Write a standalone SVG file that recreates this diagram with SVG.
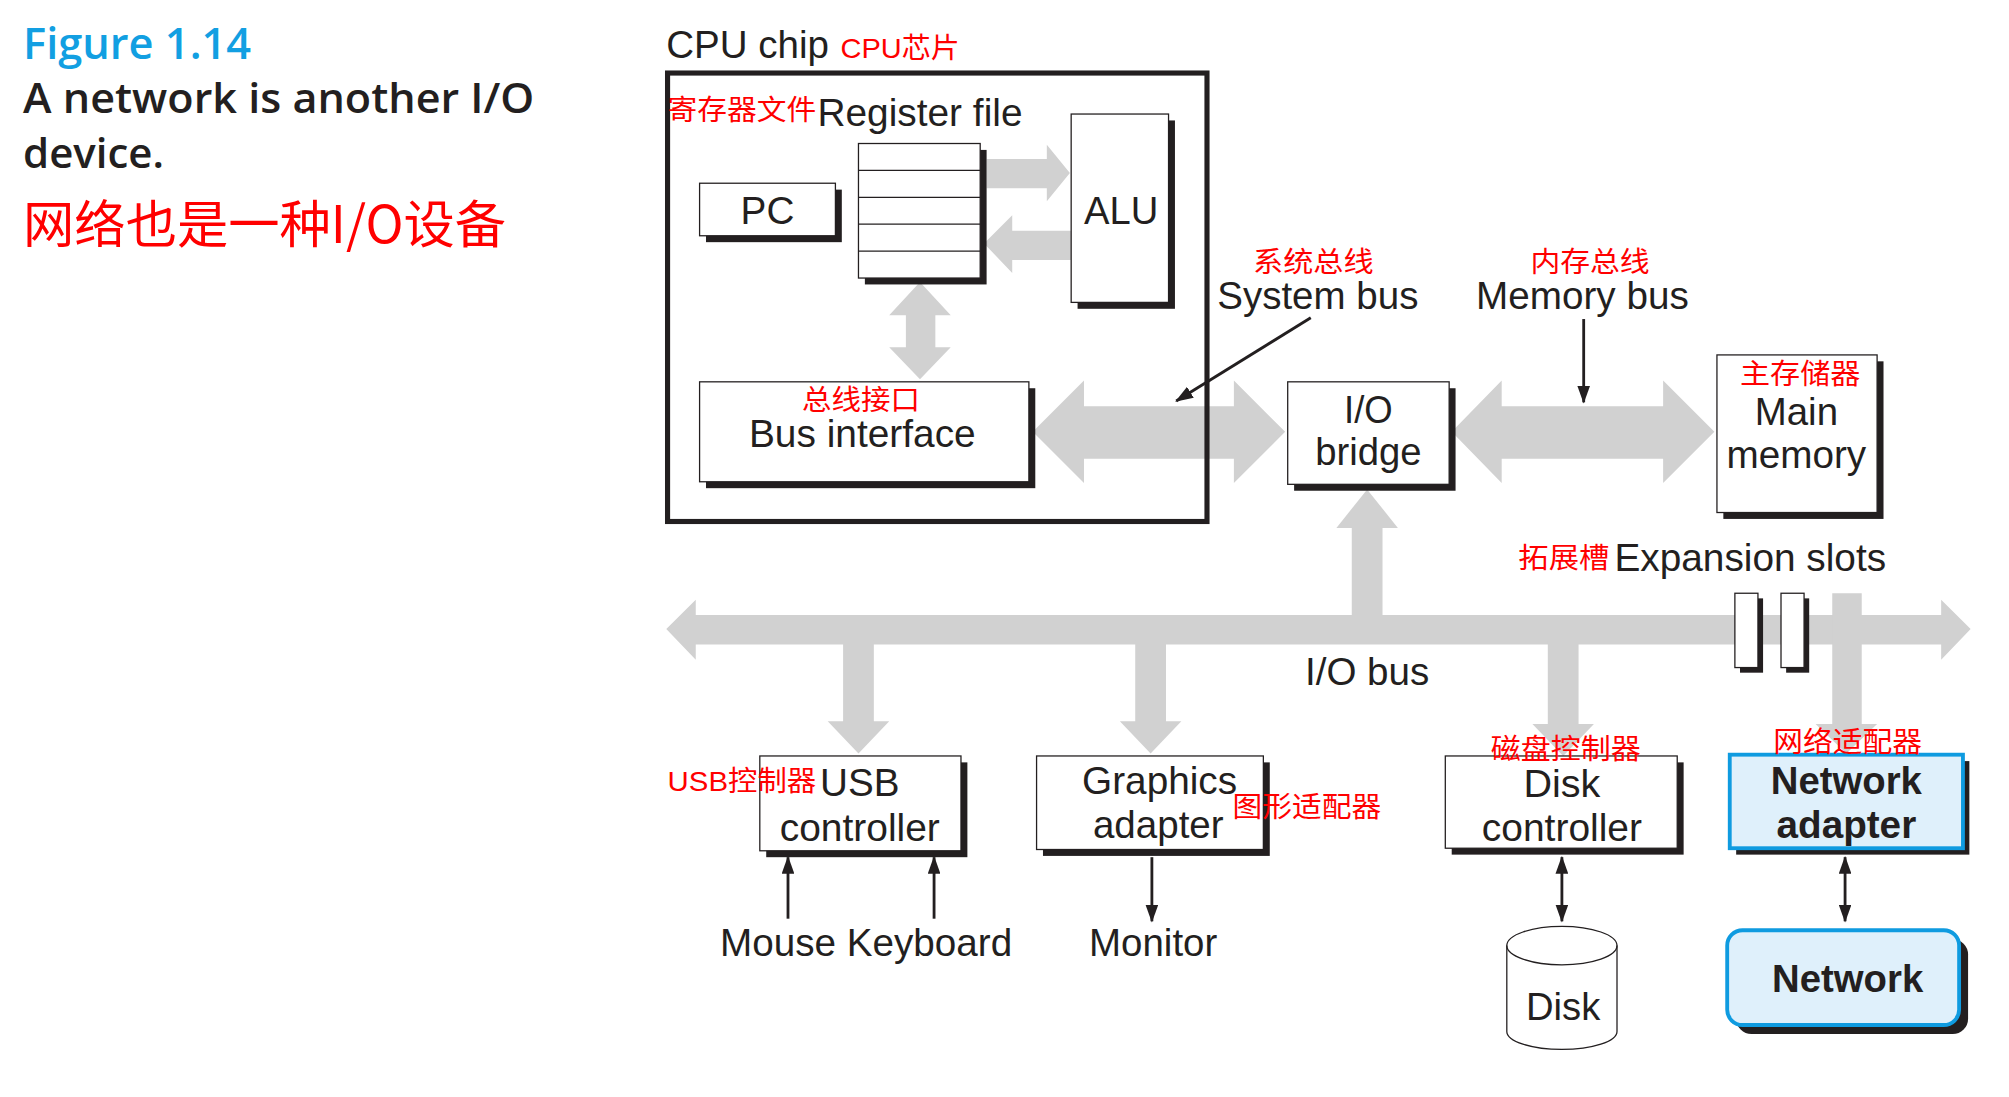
<svg xmlns="http://www.w3.org/2000/svg" width="2009" height="1097" viewBox="0 0 2009 1097">
<defs>
<style>
.lb{font-family:"Liberation Sans Narrow","Liberation Sans",Arial,sans-serif;font-size:30px;fill:#231f20}
.bd{font-weight:bold}
.cn{font-family:"Liberation Sans","Noto Sans CJK SC",sans-serif;font-size:22px;fill:#ff0000}
.ttl{font-family:"Open Sans","Noto Sans",sans-serif;font-weight:600}
.bus{fill:#d1d1d1}
.sh{fill:#231f20}
.bx{fill:#ffffff;stroke:#231f20;stroke-width:1}
.nb{fill:#dff0fb;stroke:#0f9be0;stroke-width:3}
.pt{stroke:#231f20;stroke-width:2.2;fill:none}
</style>
<marker id="ah" viewBox="0 0 14 10" refX="13" refY="5" markerWidth="14" markerHeight="10" orient="auto-start-reverse" markerUnits="userSpaceOnUse">
<path d="M0,0 L14,5 L0,10 z" fill="#231f20"/>
</marker>
</defs>
<rect width="2009" height="1097" fill="#ffffff"/>
<g transform="scale(1.2813)">
<g id="title">
<text class="ttl" x="18" y="46" font-size="34" fill="#129fe2" textLength="178" lengthAdjust="spacingAndGlyphs">Figure 1.14</text>
<text class="ttl" x="18" y="88" font-size="33" fill="#231f20" textLength="399" lengthAdjust="spacingAndGlyphs">A network is another I/O</text>
<text class="ttl" x="18" y="131" font-size="33" fill="#231f20" textLength="110" lengthAdjust="spacingAndGlyphs">device.</text>
<text x="18" y="190" font-family="'Noto Sans CJK SC',sans-serif" font-size="40" fill="#ff0000" textLength="377" lengthAdjust="spacingAndGlyphs">网络也是一种I/O设备</text>
</g>

<g id="connectors">
<polygon class="bus" points="770,124 817,124 817,113 835,135 817,157 817,147 770,147"/>
<polygon class="bus" points="836,180 790,180 790,168 768,190 790,213 790,203 836,203"/>
<polygon class="bus" points="718,220 742,246 730,246 730,271 742,271 718,296 694,271 707,271 707,246 694,246"/>
<polygon class="bus" points="806,337 846,297 846,317 963,317 963,297 1003,337 963,377 963,358 846,358 846,377"/>
<polygon class="bus" points="1133,337 1172,297 1172,317 1298,317 1298,297 1338,337 1298,377 1298,358 1172,358 1172,377"/>
<polygon class="bus" points="1067,382 1091,412 1079,412 1079,482 1055,482 1055,412 1043,412"/>
<polygon class="bus" points="520,491 543,468 543,480 1515,480 1515,468 1538,491 1515,515 1515,503 543,503 543,515"/>
<polygon class="bus" points="658,500 682,500 682,563 694,563 670,588 646,563 658,563"/>
<polygon class="bus" points="886,500 910,500 910,563 922,563 898,588 874,563 886,563"/>
<polygon class="bus" points="1208,500 1232,500 1232,565 1244,565 1220,590 1196,565 1208,565"/>
<polygon class="bus" points="1430,463 1453,463 1453,565 1465,565 1441,588 1417,565 1430,565"/>
<line class="pt" x1="1023" y1="248" x2="918" y2="313" marker-end="url(#ah)"/>
<line class="pt" x1="1236" y1="249" x2="1236" y2="314" marker-end="url(#ah)"/>
<line class="pt" x1="615" y1="717" x2="615" y2="669" marker-end="url(#ah)"/>
<line class="pt" x1="729" y1="717" x2="729" y2="669" marker-end="url(#ah)"/>
<line class="pt" x1="899" y1="669" x2="899" y2="719" marker-end="url(#ah)"/>
<line class="pt" x1="1219" y1="669" x2="1219" y2="719" marker-start="url(#ah)" marker-end="url(#ah)"/>
<line class="pt" x1="1440" y1="669" x2="1440" y2="719" marker-start="url(#ah)" marker-end="url(#ah)"/>
</g>

<g id="cpu-chip">
<rect x="521" y="57" width="421" height="350" fill="none" stroke="#231f20" stroke-width="4"/>
<text class="lb" x="520" y="45" textLength="127" lengthAdjust="spacingAndGlyphs">CPU chip</text>
<text class="cn" x="656" y="45" textLength="93" lengthAdjust="spacingAndGlyphs">CPU芯片</text>
</g>

<g id="register-file">
<rect class="sh" x="675" y="117" width="95" height="105"/>
<rect class="bx" x="670" y="112" width="95" height="105"/>
<line class="bx" x1="670" y1="133" x2="765" y2="133"/>
<line class="bx" x1="670" y1="154" x2="765" y2="154"/>
<line class="bx" x1="670" y1="175" x2="765" y2="175"/>
<line class="bx" x1="670" y1="196" x2="765" y2="196"/>
<text class="cn" x="521" y="94" textLength="116" lengthAdjust="spacingAndGlyphs">寄存器文件</text>
<text class="lb" x="638" y="98" textLength="160" lengthAdjust="spacingAndGlyphs">Register file</text>
</g>

<g id="pc">
<rect class="sh" x="551" y="148" width="106" height="41"/>
<rect class="bx" x="546" y="143" width="106" height="41"/>
<text class="lb" x="599" y="175" text-anchor="middle" textLength="42" lengthAdjust="spacingAndGlyphs">PC</text>
</g>

<g id="alu">
<rect class="sh" x="841" y="94" width="76" height="147"/>
<rect class="bx" x="836" y="89" width="76" height="147"/>
<text class="lb" x="875" y="175" text-anchor="middle" textLength="58" lengthAdjust="spacingAndGlyphs">ALU</text>
</g>

<g id="bus-interface">
<rect class="sh" x="551" y="303" width="257" height="78"/>
<rect class="bx" x="546" y="298" width="257" height="78"/>
<text class="cn" x="672" y="320" text-anchor="middle" textLength="92" lengthAdjust="spacingAndGlyphs">总线接口</text>
<text class="lb" x="673" y="349" text-anchor="middle" textLength="177" lengthAdjust="spacingAndGlyphs">Bus interface</text>
</g>

<g id="system-bus-label">
<text class="cn" x="1025" y="212" text-anchor="middle" textLength="94" lengthAdjust="spacingAndGlyphs">系统总线</text>
<text class="lb" x="950" y="241" textLength="157" lengthAdjust="spacingAndGlyphs">System bus</text>
</g>

<g id="memory-bus-label">
<text class="cn" x="1241" y="212" text-anchor="middle" textLength="93" lengthAdjust="spacingAndGlyphs">内存总线</text>
<text class="lb" x="1152" y="241" textLength="166" lengthAdjust="spacingAndGlyphs">Memory bus</text>
</g>

<g id="io-bridge">
<rect class="sh" x="1010" y="303" width="126" height="80"/>
<rect class="bx" x="1005" y="298" width="126" height="80"/>
<text class="lb" x="1068" y="330" text-anchor="middle" textLength="38" lengthAdjust="spacingAndGlyphs">I/O</text>
<text class="lb" x="1068" y="363" text-anchor="middle" textLength="83" lengthAdjust="spacingAndGlyphs">bridge</text>
</g>

<g id="main-memory">
<rect class="sh" x="1345" y="282" width="125" height="123"/>
<rect class="bx" x="1340" y="277" width="125" height="123"/>
<text class="cn" x="1405" y="300" text-anchor="middle" textLength="94" lengthAdjust="spacingAndGlyphs">主存储器</text>
<text class="lb" x="1402" y="332" text-anchor="middle" textLength="65" lengthAdjust="spacingAndGlyphs">Main</text>
<text class="lb" x="1402" y="365" text-anchor="middle" textLength="109" lengthAdjust="spacingAndGlyphs">memory</text>
</g>

<g id="expansion-slots">
<rect class="sh" x="1358" y="467" width="18" height="58"/>
<rect class="bx" x="1354" y="463" width="18" height="58"/>
<rect class="sh" x="1394" y="467" width="18" height="58"/>
<rect class="bx" x="1390" y="463" width="18" height="58"/>
<text class="cn" x="1185" y="443" textLength="71" lengthAdjust="spacingAndGlyphs">拓展槽</text>
<text class="lb" x="1260" y="446" textLength="212" lengthAdjust="spacingAndGlyphs">Expansion slots</text>
</g>

<g id="io-bus-label">
<text class="lb" x="1067" y="535" text-anchor="middle" textLength="97" lengthAdjust="spacingAndGlyphs">I/O bus</text>
</g>

<g id="usb-controller">
<rect class="sh" x="598" y="595" width="157" height="74"/>
<rect class="bx" x="593" y="590" width="157" height="74"/>
<text class="cn" x="521" y="617" textLength="116" lengthAdjust="spacingAndGlyphs">USB控制器</text>
<text class="lb" x="640" y="621" textLength="62" lengthAdjust="spacingAndGlyphs">USB</text>
<text class="lb" x="671" y="656" text-anchor="middle" textLength="125" lengthAdjust="spacingAndGlyphs">controller</text>
</g>

<g id="graphics-adapter">
<rect class="sh" x="814" y="595" width="177" height="73"/>
<rect class="bx" x="809" y="590" width="177" height="73"/>
<text class="lb" x="905" y="620" text-anchor="middle" textLength="121" lengthAdjust="spacingAndGlyphs">Graphics</text>
<text class="lb" x="904" y="654" text-anchor="middle" textLength="102" lengthAdjust="spacingAndGlyphs">adapter</text>
<text class="cn" x="962" y="638" textLength="116" lengthAdjust="spacingAndGlyphs">图形适配器</text>
</g>

<g id="disk-controller">
<rect class="sh" x="1133" y="595" width="181" height="72"/>
<rect class="bx" x="1128" y="590" width="181" height="72"/>
<text class="cn" x="1222" y="592" text-anchor="middle" textLength="117" lengthAdjust="spacingAndGlyphs">磁盘控制器</text>
<text class="lb" x="1219" y="622" text-anchor="middle" textLength="60" lengthAdjust="spacingAndGlyphs">Disk</text>
<text class="lb" x="1219" y="656" text-anchor="middle" textLength="125" lengthAdjust="spacingAndGlyphs">controller</text>
</g>

<g id="network-adapter">
<rect class="sh" x="1355" y="594" width="182" height="73"/>
<rect class="nb" x="1350" y="589" width="182" height="73"/>
<text class="cn" x="1442" y="587" text-anchor="middle" textLength="116" lengthAdjust="spacingAndGlyphs">网络适配器</text>
<text class="lb bd" x="1441" y="620" text-anchor="middle" textLength="118" lengthAdjust="spacingAndGlyphs">Network</text>
<text class="lb bd" x="1441" y="654" text-anchor="middle" textLength="109" lengthAdjust="spacingAndGlyphs">adapter</text>
</g>

<g id="mouse-keyboard">
<text class="lb" x="562" y="746" textLength="228" lengthAdjust="spacingAndGlyphs">Mouse Keyboard</text>
</g>

<g id="monitor">
<text class="lb" x="900" y="746" text-anchor="middle" textLength="100" lengthAdjust="spacingAndGlyphs">Monitor</text>
</g>

<g id="disk">
<path d="M1176,738 L1176,805 A43,14 0 0 0 1262,805 L1262,738 A43,15 0 0 0 1176,738 Z" fill="#ffffff" stroke="#231f20" stroke-width="1"/>
<path d="M1176,738 A43,15 0 0 0 1262,738" fill="none" stroke="#231f20" stroke-width="1"/>
<text class="lb" x="1220" y="796" text-anchor="middle" textLength="58" lengthAdjust="spacingAndGlyphs">Disk</text>
</g>

<g id="network">
<rect class="sh" x="1355" y="733" width="181" height="74" rx="12"/>
<rect class="nb" x="1348" y="726" width="181" height="74" rx="12"/>
<text class="lb bd" x="1442" y="774" text-anchor="middle" textLength="118" lengthAdjust="spacingAndGlyphs">Network</text>
</g>
</g>
</svg>
